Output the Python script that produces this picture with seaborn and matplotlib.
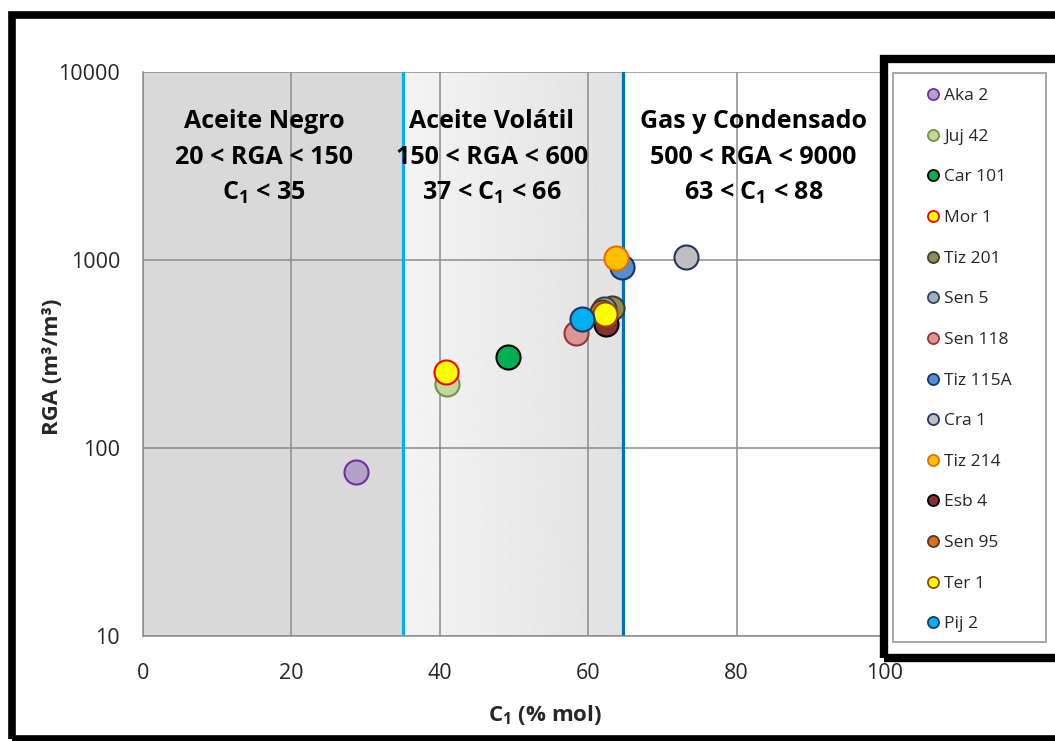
import numpy as np
import pandas as pd
import matplotlib
matplotlib.use("Agg")
import matplotlib.pyplot as plt
import seaborn as sns
from matplotlib.lines import Line2D
from matplotlib.patches import Rectangle
import matplotlib.transforms as mtransforms

# ---------------- data ----------------
wells = ["Aka 2", "Juj 42", "Car 101", "Mor 1", "Tiz 201", "Sen 5", "Sen 118",
         "Tiz 115A", "Cra 1", "Tiz 214", "Esb 4", "Sen 95", "Ter 1", "Pij 2"]
c1 = [28.7, 41.0, 49.2, 40.8, 63.2, 62.1, 58.4, 64.5, 73.2, 63.7, 62.4, 61.9, 62.2, 59.1]
rga = [74.5, 219, 305, 255, 557, 551, 410, 914, 1042, 1028, 455, 527, 518, 484]
fills = ["#B3A2C7", "#C3D69B", "#00B050", "#FFFF00", "#948A54", "#95B3D7", "#D99694",
         "#558ED5", "#BFBFBF", "#FFC000", "#8B2E2E", "#E46C0A", "#FFFF00", "#00B0F0"]
edges = ["#7030A0", "#77933C", "#000000", "#FF0000", "#3F3F2A", "#404040", "#953735",
         "#17375E", "#1F3864", "#E46C0A", "#000000", "#3F3F3F", "#984807", "#1F3864"]

zone_bounds = [35.0, 64.7]
zone_titles = ["Aceite Negro", "Aceite Volátil", "Gas y Condensado"]
zone_rga = ["20 < RGA < 150", "150 < RGA < 600", "500 < RGA < 9000"]
zone_c1 = [r"C$_{\mathbf{1}}$ < 35", r"37 < C$_{\mathbf{1}}$ < 66", r"63 < C$_{\mathbf{1}}$ < 88"]
zone_text_x = [16.3, 47.0, 82.3]

xticks = [0, 20, 40, 60, 80, 100]
yticks = [10, 100, 1000, 10000]

df = pd.DataFrame({"well": wells, "c1": c1, "rga": rga})

# ---------------- style ----------------
sns.set_style("white")
plt.rcParams["font.family"] = ["Open Sans", "DejaVu Sans"]
plt.rcParams["mathtext.fontset"] = "custom"
plt.rcParams["mathtext.rm"] = "Open Sans"
plt.rcParams["mathtext.bf"] = "Open Sans:bold"
plt.rcParams["mathtext.it"] = "Open Sans:italic"

fig = plt.figure(figsize=(10.55, 7.41), dpi=100)
fig.patch.set_facecolor("white")
ax = fig.add_axes([143 / 1055, 1 - 636 / 741, 742 / 1055, 564 / 741])

ax.set_xscale("linear")
ax.set_yscale("log")

# background zones
ax.axvspan(0, zone_bounds[0], color="#D9D9D9", zorder=0.1, lw=0)
grad = np.linspace(0.955, 0.885, 256).reshape(1, -1)
ax.imshow(grad, extent=[zone_bounds[0], zone_bounds[1], 0, 1], aspect="auto",
          cmap="gray", vmin=0, vmax=1, zorder=0.1,
          transform=mtransforms.blended_transform_factory(ax.transData, ax.transAxes))

# zone boundaries
ax.axvline(zone_bounds[0], color="#00B0F0", lw=2.3, zorder=2)
ax.axvline(zone_bounds[1], color="#0070C0", lw=2.3, zorder=2)

# points
for i in range(len(wells)):
    sub = df.iloc[[i]]
    sns.scatterplot(data=sub, x="c1", y="rga", color=fills[i], edgecolor=edges[i],
                    s=300, linewidth=1.5, ax=ax, zorder=3, legend=False)

ax.set_xlim(0, 100)
ax.set_ylim(10, 10000)
ax.set_xticks(xticks)
ax.set_yticks(yticks)
ax.set_yticklabels([str(t) for t in yticks])
ax.minorticks_off()
ax.set_axisbelow(True)
ax.grid(True, which="major", color="#8C8C8C", lw=1.1, zorder=0.5)
for s in ["top", "right"]:
    ax.spines[s].set_visible(False)
for s in ["left", "bottom"]:
    ax.spines[s].set_color("#8C8C8C")
    ax.spines[s].set_linewidth(1.1)
ax.tick_params(axis="both", which="major", length=5.5, width=1.1, color="#8C8C8C",
               labelsize=15.5, labelcolor="#262626", direction="out")
ax.tick_params(axis="x", pad=14)
ax.tick_params(axis="y", pad=11)

ax.set_xlabel(r"C$_{\mathbf{1}}$ (% mol)", fontsize=16, fontweight="bold", color="#262626",
              va="center")
ax.set_ylabel("RGA (m³/m³)", fontsize=16, fontweight="bold", color="#262626",
              va="center")
ax.xaxis.set_label_coords((545 - 143) / 742, (636 - 715) / 564)
ax.yaxis.set_label_coords((53 - 143) / 742, (636 - 367) / 564)

# zone texts
bt = mtransforms.blended_transform_factory(ax.transData, ax.transAxes)
line_y = [(636 - 121) / 564, (636 - 158) / 564, (636 - 193) / 564]
for j in range(3):
    for txt, yy in zip([zone_titles[j], zone_rga[j], zone_c1[j]], line_y):
        ax.text(zone_text_x[j], yy, txt, transform=bt, ha="center", va="center",
                fontsize=18, fontweight="bold", color="#000000", zorder=4)

# legend frames
fig.patches.append(Rectangle((893 / 1055, 1 - 642 / 741), (1046 - 893) / 1055, (642 - 73) / 741,
                             transform=fig.transFigure, fill=True, facecolor="white",
                             edgecolor="#A0A0A0", lw=1.3, zorder=5))
fig.patches.append(Rectangle((884 / 1055, 1 - 657.5 / 741), 0.3, (657.5 - 59) / 741,
                             transform=fig.transFigure, fill=False, edgecolor="black",
                             lw=6, zorder=6))
# outer frame
fig.patches.append(Rectangle((12 / 1055, 1 - 739 / 741), 1.2, (739 - 14.5) / 741,
                             transform=fig.transFigure, fill=False, edgecolor="black",
                             lw=5.5, zorder=6))

handles = [Line2D([0], [0], marker="o", linestyle="none", markersize=8,
                  markerfacecolor=fills[i], markeredgecolor=edges[i], markeredgewidth=1.3)
           for i in range(len(wells))]
leg = fig.legend(handles, wells, loc="upper left", bbox_to_anchor=(924 / 1055, 1 - 88 / 741),
                 frameon=False, fontsize=12.5, handlelength=1.0, handletextpad=0.15,
                 borderpad=0, borderaxespad=0, labelspacing=1.41)
leg.set_zorder(7)
for t in leg.get_texts():
    t.set_color("#262626")

fig.savefig("out.png", dpi=100)
